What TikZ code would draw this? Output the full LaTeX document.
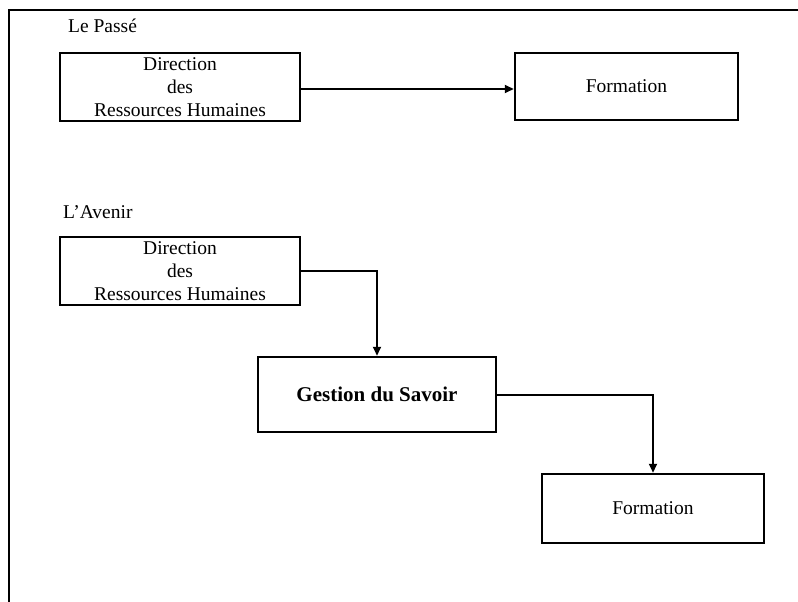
\documentclass[tikz,border=0pt]{standalone}
\usepackage{fontspec}
\setmainfont{Liberation Serif}
\usetikzlibrary{arrows.meta}
\begin{document}
\begin{tikzpicture}[x=1pt,y=-1pt,
  box/.style={draw,line width=2.5pt,rectangle,inner sep=0pt,align=center,
    font=\fontsize{19.5}{23}\selectfont},
  lbl/.style={anchor=base west,inner sep=0pt,font=\fontsize{19.5}{23}\selectfont},
  conn/.style={line width=2pt,-{Triangle[length=9pt,width=8pt]}}]
\useasboundingbox (0,0) rectangle (798,602);
% frame
\coordinate (fa) at (9,602);
\coordinate (fb) at (9,10);
\coordinate (fc) at (798,10);
\draw[line width=2.5pt] (fa) -- (fb) -- (fc);
% past
\node[lbl] (passe) at (68,33) {Le Passé};
\node[box,minimum width=240pt,minimum height=68pt] (drh1) at (180,87)
  {Direction\\des\\Ressources Humaines};
\node[box,minimum width=223pt,minimum height=67pt] (form1) at (626.5,86.5) {Formation};
\draw[conn] ([yshift=-2pt]drh1.east) -- ([yshift=-2pt]drh1.east -| form1.west);
% future
\node[lbl] (avenir) at (63,218) {L’Avenir};
\node[box,minimum width=240pt,minimum height=68pt] (drh2) at (180,271)
  {Direction\\des\\Ressources Humaines};
\node[box,minimum width=238pt,minimum height=75pt,
  font=\fontsize{21}{24}\selectfont\bfseries] (gest) at (377,394.5) {Gestion du Savoir};
\node[box,minimum width=222pt,minimum height=69pt] (form2) at (653,508.5) {Formation};
\draw[conn] (drh2.east) -| (gest.north);
\draw[conn] (gest.east) -| (form2.north);
\end{tikzpicture}
\end{document}
